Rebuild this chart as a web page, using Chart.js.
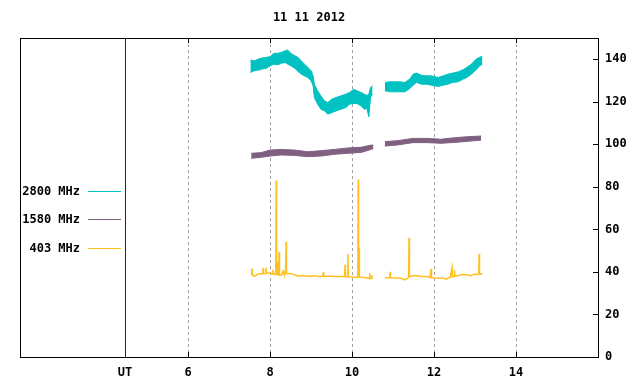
<!DOCTYPE html>
<html lang="en">
<head>
    <meta charset="UTF-8">
    <title>11 11 2012</title>
    <script src="https://cdn.jsdelivr.net/npm/chart.js"></script>
    <style>
        html, body { margin: 0; padding: 0; background: #fff; }
        #wrap { width: 640px; height: 384px; }
    </style>
</head>
<body>
    <div id="wrap"><canvas id="solarChart"></canvas></div>

    <script>
        // hour ticks (UT marker sits at the legend edge)
        const utHour = 4.46;
        const hourTicks = [6, 8, 10, 12, 14];
        const fluxTicks = [0, 20, 40, 60, 80, 100, 120, 140];

        // 2800 MHz: band low / high per time sample (null = gap)
        const t2800 = [7.52, 7.62, 7.72, 7.81, 7.91, 8.00, 8.09, 8.19, 8.27, 8.37, 8.43, 8.51, 8.60, 8.68, 8.76, 8.84, 8.92, 9.00,
                       9.05, 9.08, 9.16, 9.24, 9.33, 9.41, 9.50, 9.61, 9.73, 9.85, 9.94, 10.04, 10.12, 10.22, 10.30, 10.36, 10.41, 10.45, 10.50,
                       10.65,
                       10.80, 10.92, 11.04, 11.16, 11.29, 11.41, 11.49, 11.57, 11.69, 11.81, 11.94, 12.00, 12.10, 12.22, 12.34, 12.46,
                       12.59, 12.71, 12.80, 12.91, 13.03, 13.11, 13.18];
        const lo2800 = [133.8, 134.6, 134.9, 135.4, 135.8, 136.9, 137.7, 137.4, 138.1, 138.5, 137.7, 136.9, 135.8, 134.3, 133.0, 132.2, 131.4, 129.9,
                        127.5, 122.0, 118.9, 116.5, 115.7, 114.2, 114.9, 115.7, 116.5, 117.3, 118.9, 119.2, 119.2, 118.1, 116.5, 117.0, 112.9, 122.0, 123.6,
                        null,
                        125.2, 124.7, 124.7, 124.7, 124.7, 126.3, 127.8, 129.1, 128.3, 128.3, 127.8, 127.5, 127.2, 127.8, 128.3, 129.1,
                        129.4, 130.7, 131.4, 133.0, 135.1, 136.9, 137.7];
        const hi2800 = [139.6, 139.3, 140.1, 140.6, 140.9, 141.2, 142.8, 142.8, 143.2, 144.0, 144.3, 142.8, 141.7, 140.9, 139.3, 137.7, 136.2, 134.6,
                        132.2, 128.3, 125.2, 122.8, 120.4, 119.7, 121.2, 122.0, 122.8, 123.6, 124.4, 125.9, 125.2, 124.4, 123.6, 123.0, 123.6, 126.7, 127.5,
                        null,
                        129.1, 129.4, 129.4, 129.4, 129.1, 130.7, 133.0, 133.5, 132.5, 132.2, 132.2, 131.9, 131.4, 132.2, 133.0, 133.5,
                        134.1, 135.1, 136.2, 137.7, 140.1, 140.9, 141.4];

        // 1580 MHz
        const t1580 = [7.54, 7.78, 8.00, 8.27, 8.60, 8.92, 9.24, 9.57, 9.90, 10.22, 10.42, 10.52,
                       10.65,
                       10.80, 11.11, 11.48, 11.85, 12.17, 12.50, 12.82, 13.15];
        const lo1580 = [93.4, 93.9, 94.5, 95.0, 94.8, 94.2, 94.5, 95.3, 95.8, 96.2, 97.3, 98.1,
                        null,
                        99.2, 99.7, 100.8, 100.8, 100.5, 100.9, 101.4, 102.0];
        const hi1580 = [95.8, 96.1, 97.3, 97.6, 97.3, 96.5, 97.0, 97.6, 98.3, 98.6, 99.5, 99.7,
                        null,
                        101.3, 101.7, 102.8, 102.8, 102.4, 103.1, 103.6, 103.9];

        // 403 MHz (spikes included)
        const t403 = [7.53, 7.55, 7.56, 7.57, 7.60, 7.65, 7.70, 7.75, 7.82, 7.83, 7.84, 7.89, 7.90, 7.91, 7.96, 8.00, 8.05, 8.07, 8.09,
                      8.14, 8.15, 8.16, 8.17, 8.18, 8.21, 8.22, 8.23, 8.28, 8.32, 8.34, 8.38, 8.39, 8.40, 8.50, 8.60, 8.70, 8.80, 8.90,
                      9.00, 9.10, 9.20, 9.29, 9.30, 9.31, 9.40, 9.50, 9.60, 9.70, 9.80, 9.82, 9.83, 9.84, 9.89, 9.90, 9.91, 10.00,
                      10.10, 10.14, 10.15, 10.16, 10.17, 10.18, 10.25, 10.33, 10.40, 10.42, 10.43, 10.44, 10.47, 10.48, 10.49, 10.51,
                      10.65,
                      10.80, 10.85, 10.92, 10.93, 10.94, 11.00, 11.10, 11.20, 11.29, 11.35, 11.38, 11.39, 11.40, 11.49, 11.55, 11.60,
                      11.70, 11.80, 11.90, 11.93, 11.94, 12.00, 12.10, 12.20, 12.30, 12.40, 12.44, 12.45, 12.49, 12.50, 12.51, 12.55,
                      12.60, 12.70, 12.80, 12.90, 12.95, 13.00, 13.05, 13.09, 13.10, 13.11, 13.18];
        const v403 = [38.7, 39.0, 41.5, 38.5, 38.0, 38.3, 39.0, 39.2, 39.2, 41.8, 39.2, 39.3, 42.0, 39.3, 39.5, 39.5, 39.0, 41.0, 39.0,
                      38.8, 83.0, 38.8, 44.7, 38.8, 38.5, 49.5, 38.5, 38.5, 40.5, 39.0, 39.2, 54.2, 39.3, 39.3, 38.6, 38.0, 38.3, 38.0,
                      38.0, 38.2, 37.8, 37.9, 40.0, 37.9, 38.0, 38.0, 37.9, 37.9, 37.8, 37.8, 43.4, 37.8, 37.7, 48.6, 37.7, 37.6,
                      37.4, 37.5, 83.5, 37.6, 51.4, 37.6, 37.5, 37.3, 37.0, 36.9, 39.5, 36.9, 36.9, 38.5, 36.9, 36.9,
                      null,
                      37.3, 37.3, 37.4, 40.1, 37.4, 37.3, 37.2, 37.0, 36.3, 37.0, 37.5, 56.1, 37.8, 38.2, 38.3, 38.2,
                      37.9, 37.9, 37.5, 41.5, 37.2, 37.1, 37.0, 37.2, 36.6, 37.6, 42.0, 37.6, 38.0, 40.8, 38.0, 38.2,
                      38.3, 38.8, 38.7, 38.2, 38.7, 39.0, 38.8, 38.9, 48.6, 39.0, 39.2];

        const cTeal = '#00c2c2';
        const cPurple = '#806080';
        const cGold = '#ffc020';
        const monoFont = '"DejaVu Sans Mono", "Liberation Mono", monospace';

        const pts = (t, v) => t.map((x, i) => ({ x: x, y: v[i] }));

        // frame, dashed hour lines, UT line, inner tick marks and legend
        const framePlugin = {
            id: 'frame',
            beforeDatasetsDraw(chart) {
                const { ctx, chartArea: a, scales } = chart;
                const x = scales.x;
                ctx.save();
                ctx.lineWidth = 1;
                ctx.strokeStyle = '#a0a0a0';
                ctx.setLineDash([3, 3]);
                hourTicks.forEach(h => {
                    const px = Math.round(x.getPixelForValue(h)) + 0.5;
                    ctx.beginPath();
                    ctx.moveTo(px, a.top);
                    ctx.lineTo(px, a.bottom);
                    ctx.stroke();
                });
                ctx.setLineDash([]);
                ctx.strokeStyle = '#800000';
                const ux = Math.round(x.getPixelForValue(utHour)) + 0.5;
                ctx.beginPath();
                ctx.moveTo(ux, a.top);
                ctx.lineTo(ux, a.bottom);
                ctx.stroke();
                ctx.restore();
            },
            afterDatasetsDraw(chart) {
                const { ctx, chartArea: a, scales } = chart;
                const x = scales.x, y = scales.y;
                ctx.save();
                ctx.strokeStyle = '#000';
                ctx.lineWidth = 1;
                ctx.beginPath();
                hourTicks.forEach(h => {
                    const px = Math.round(x.getPixelForValue(h)) + 0.5;
                    ctx.moveTo(px, a.top); ctx.lineTo(px, a.top + 5);
                    ctx.moveTo(px, a.bottom); ctx.lineTo(px, a.bottom - 5);
                });
                fluxTicks.forEach(v => {
                    const py = Math.round(y.getPixelForValue(v)) + 0.5;
                    ctx.moveTo(a.right, py); ctx.lineTo(a.right - 5, py);
                });
                ctx.stroke();
                ctx.strokeRect(Math.round(a.left) + 0.5, Math.round(a.top) + 0.5,
                               Math.round(a.right - a.left), Math.round(a.bottom - a.top));

                // legend
                const entries = [['2800 MHz', cTeal, 191], ['1580 MHz', cPurple, 219], ['403 MHz', cGold, 248]];
                ctx.font = 'bold 12px ' + monoFont;
                ctx.textAlign = 'right';
                ctx.textBaseline = 'middle';
                entries.forEach(([label, col, py]) => {
                    ctx.fillStyle = '#000';
                    ctx.fillText(label, 80, py + 1);
                    ctx.strokeStyle = col;
                    ctx.beginPath();
                    ctx.moveTo(88, py + 0.5);
                    ctx.lineTo(121, py + 0.5);
                    ctx.stroke();
                });
                ctx.restore();
            }
        };

        const band = (label, t, v, col, fill) => ({
            label: label,
            data: pts(t, v),
            borderColor: col,
            backgroundColor: col,
            borderWidth: 1,
            pointRadius: 0,
            tension: 0,
            spanGaps: false,
            fill: fill
        });

        new Chart(document.getElementById('solarChart'), {
            type: 'line',
            data: {
                datasets: [
                    band('2800 MHz', t2800, hi2800, cTeal, false),
                    band('2800 MHz low', t2800, lo2800, cTeal, '-1'),
                    band('1580 MHz', t1580, hi1580, cPurple, false),
                    band('1580 MHz low', t1580, lo1580, cPurple, '-1'),
                    {
                        label: '403 MHz',
                        data: pts(t403, v403),
                        borderColor: cGold,
                        borderWidth: 1.5,
                        pointRadius: 0,
                        tension: 0,
                        spanGaps: false,
                        fill: false
                    }
                ]
            },
            options: {
                responsive: true,
                maintainAspectRatio: false,
                animation: false,
                layout: { padding: { left: 20, right: 0, top: 0, bottom: 0 } },
                plugins: {
                    legend: { display: false },
                    tooltip: { enabled: false },
                    title: {
                        display: true,
                        fullSize: false,
                        text: '11 11 2012',
                        color: '#000',
                        font: { family: monoFont, size: 12, weight: 'bold' },
                        padding: { top: 11, bottom: 12.6 }
                    }
                },
                scales: {
                    x: {
                        type: 'linear',
                        min: 1.9,
                        max: 16,
                        grid: { display: false, drawTicks: false, tickLength: 0 },
                        border: { display: false },
                        afterBuildTicks: axis => {
                            axis.ticks = [{ value: utHour }].concat(hourTicks.map(h => ({ value: h })));
                        },
                        afterFit: axis => { axis.height = 27; },
                        ticks: {
                            autoSkip: false,
                            maxRotation: 0,
                            padding: 9,
                            color: '#000',
                            font: { family: monoFont, size: 12, weight: 'bold' },
                            callback: v => (v === utHour ? 'UT' : v)
                        }
                    },
                    y: {
                        position: 'right',
                        min: 0,
                        max: 150,
                        grid: { display: false, drawTicks: false, tickLength: 0 },
                        border: { display: false },
                        afterBuildTicks: axis => {
                            axis.ticks = fluxTicks.map(v => ({ value: v }));
                        },
                        afterFit: axis => { axis.width = 42; },
                        ticks: {
                            padding: 7,
                            color: '#000',
                            font: { family: monoFont, size: 12, weight: 'bold' }
                        }
                    }
                }
            },
            plugins: [framePlugin]
        });
    </script>
</body>
</html>
